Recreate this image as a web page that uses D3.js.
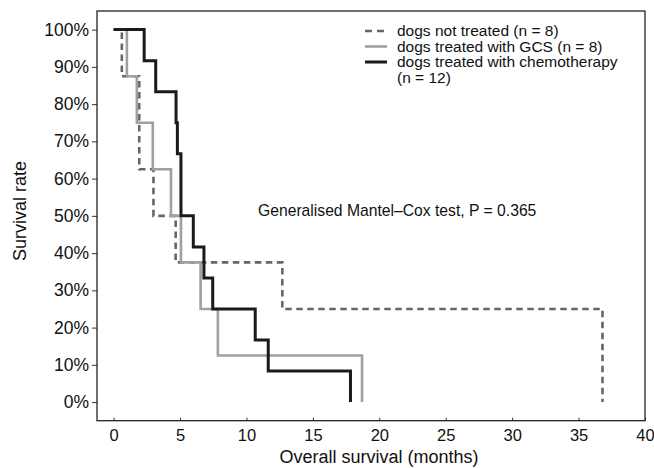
<!DOCTYPE html>
<html>
<head>
<meta charset="utf-8">
<script src="https://cdn.jsdelivr.net/npm/d3@7"></script>
<style>
  html, body { margin: 0; padding: 0; background: #fff; }
  svg { display: block; font-family: "Liberation Sans", Arial, sans-serif; }
</style>
</head>
<body>
<svg id="chart" width="654" height="468"></svg>
<script>
// courbes de survie (Kaplan-Meier), temps en mois, survie en %
const notTreatedTime = [0, 0.62, 1.93, 3.0, 4.67, 12.7, 36.8];
const notTreatedSurv = [100, 87.5, 62.5, 50, 37.5, 25, 0];

const gcsTime = [0, 1.0, 1.75, 2.95, 4.32, 5.07, 6.55, 7.85, 18.7];
const gcsSurv = [100, 87.5, 75, 62.5, 50, 37.5, 25, 12.5, 0];

const chemoTime = [0, 2.3, 3.17, 4.7, 4.8, 5.07, 6.0, 6.8, 7.46, 10.66, 11.64, 17.83];
const chemoSurv = [100, 91.67, 83.33, 75, 66.67, 50, 41.67, 33.33, 25, 16.67, 8.33, 0];

const xTicks = [0, 5, 10, 15, 20, 25, 30, 35, 40];
const yTicks = [0, 10, 20, 30, 40, 50, 60, 70, 80, 90, 100];

const legendLabels = ["dogs not treated (n = 8)", "dogs treated with GCS (n = 8)", "dogs treated with chemotherapy", "(n = 12)"];
const testLabel = "Generalised Mantel\u2013Cox test, P = 0.365";

const svg = d3.select("#chart");
const margin = { top: 11, right: 9, bottom: 47.3, left: 97 };
const width = 654 - margin.left - margin.right;
const height = 468 - margin.top - margin.bottom;

const g = svg.append("g").attr("transform", `translate(${margin.left},${margin.top})`);

const x = d3.scaleLinear().domain([-1.25, 40]).range([0, width]);
const y = d3.scaleLinear().domain([-5, 105]).range([height, 0]);

// axes
const xAxis = g.append("g").attr("transform", `translate(0,${height})`)
  .call(d3.axisBottom(x).tickValues(xTicks).tickSizeInner(-3).tickSizeOuter(0).tickPadding(9));
const yAxis = g.append("g")
  .call(d3.axisLeft(y).tickValues(yTicks).tickFormat(d => d + "%").tickSizeInner(5).tickSizeOuter(0).tickPadding(3));

xAxis.select(".domain").remove();
yAxis.select(".domain").remove();
xAxis.selectAll("text").attr("font-size", 16.5).attr("fill", "#111").attr("font-family", "Liberation Sans, Arial, sans-serif");
yAxis.selectAll("text").attr("font-size", 17.5).attr("fill", "#111").attr("font-family", "Liberation Sans, Arial, sans-serif");
xAxis.selectAll(".tick line").attr("stroke", "#333");
yAxis.selectAll(".tick line").attr("stroke", "#333");

// cadre
g.append("rect").attr("x", 0).attr("y", 0).attr("width", width).attr("height", height)
  .attr("fill", "none").attr("stroke", "#222").attr("stroke-width", 1.3);

// titres des axes
svg.append("text").attr("x", 379).attr("y", 463).attr("text-anchor", "middle")
  .attr("font-size", 18).attr("fill", "#111").text("Overall survival (months)");
svg.append("text").attr("transform", "rotate(-90)").attr("x", -211).attr("y", 26)
  .attr("text-anchor", "middle").attr("font-size", 18).attr("fill", "#111").text("Survival rate");

// courbes
const step = d3.line().curve(d3.curveStepAfter).x(d => x(d[0])).y(d => y(d[1]));
const zip = (t, s) => t.map((v, i) => [v, s[i]]);

g.append("path").datum(zip(notTreatedTime, notTreatedSurv)).attr("d", step)
  .attr("fill", "none").attr("stroke", "#666").attr("stroke-width", 2.6).attr("stroke-dasharray", "6.5 4.5");
g.append("path").datum(zip(gcsTime, gcsSurv)).attr("d", step)
  .attr("fill", "none").attr("stroke", "#a0a0a0").attr("stroke-width", 2.6);
g.append("path").datum(zip(chemoTime, chemoSurv)).attr("d", step)
  .attr("fill", "none").attr("stroke", "#1a1a1a").attr("stroke-width", 3);

// texte du test
svg.append("text").attr("x", 258).attr("y", 216).attr("font-size", 15.7).attr("fill", "#111").text(testLabel);

// légende
const legend = svg.append("g").attr("transform", "translate(365,31)");
const legendStyles = [
  { stroke: "#666", dash: "7 5", w: 2.6 },
  { stroke: "#a0a0a0", dash: null, w: 2.6 },
  { stroke: "#1a1a1a", dash: null, w: 3 }
];
legendStyles.forEach((s, i) => {
  legend.append("line").attr("x1", 0).attr("x2", 22).attr("y1", i * 15.5).attr("y2", i * 15.5)
    .attr("stroke", s.stroke).attr("stroke-width", s.w).attr("stroke-dasharray", s.dash);
});
legendLabels.forEach((t, i) => {
  legend.append("text").attr("x", 32).attr("y", i * 15.5).attr("dy", "0.35em")
    .attr("font-size", 15.5).attr("fill", "#111").text(t);
});
</script>
</body>
</html>
